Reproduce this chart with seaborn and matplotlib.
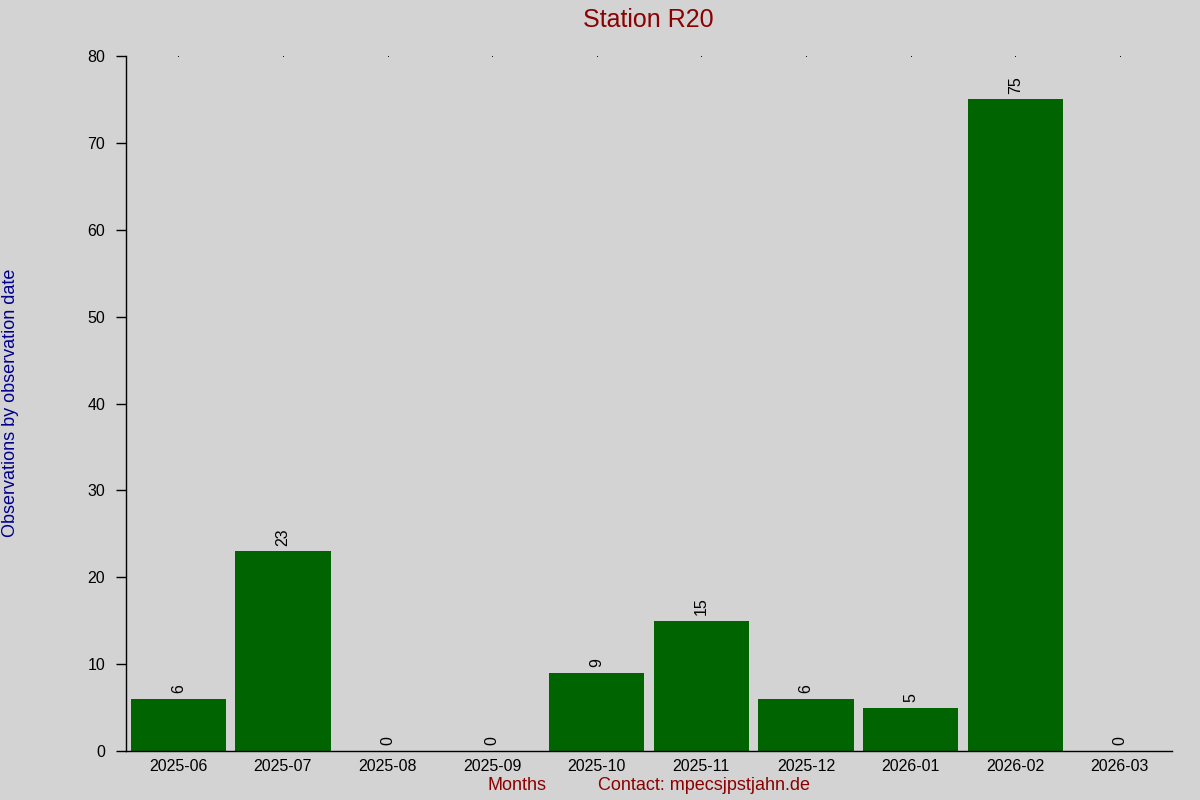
import matplotlib
matplotlib.use("Agg")
import matplotlib.pyplot as plt
import seaborn as sns
import pandas as pd

# data
months = ["2025-06", "2025-07", "2025-08", "2025-09", "2025-10",
          "2025-11", "2025-12", "2026-01", "2026-02", "2026-03"]
counts = [6, 23, 0, 0, 9, 15, 6, 5, 75, 0]

df = pd.DataFrame({"month": months, "count": counts})

sns.set_style("white")
plt.rcParams["font.family"] = ["Liberation Sans", "DejaVu Sans"]

bg = "#d3d3d3"
fig = plt.figure(figsize=(12, 8), dpi=100, facecolor=bg)
ax = fig.add_axes([0.105, 0.06125, 0.8717, 0.86875])
ax.set_facecolor(bg)

sns.barplot(data=df, x="month", y="count", color="#006400", saturation=1,
            width=0.91, edgecolor="none", linewidth=0, ax=ax)
for bars in ax.containers:
    ax.bar_label(bars, rotation=90, padding=4, fontsize=11.5, color="black")

ax.set_xlim(-0.5, len(months) - 0.5)
ax.set_ylim(0, 80)
ax.set_yticks(range(0, 81, 10))
ax.set_xlabel("")
ax.set_ylabel("")

for side in ["top", "right"]:
    ax.spines[side].set_visible(False)
for side in ["left", "bottom"]:
    ax.spines[side].set_color("black")
    ax.spines[side].set_linewidth(1)

ax.yaxis.set_ticks_position("left")
ax.tick_params(axis="y", left=True, direction="out", length=7, width=1,
               labelsize=11.5, colors="black", pad=8)
ax.tick_params(axis="x", length=0, labelsize=11.5, colors="black", pad=6)

# the tiny dots along the top edge
for i in range(len(months)):
    ax.plot(i, 80, marker="s", markersize=0.6, markeredgewidth=0,
            color="black", clip_on=False)

fig.text(0.54, 0.975, "Station R20", ha="center", va="center",
         fontsize=18, color="#8b0000")
fig.text(0.009, 0.497, "Observations by observation date", rotation=90,
         ha="center", va="center", fontsize=13, color="#00008b")
fig.text(0.431, 0.018, "Months", ha="center", va="center",
         fontsize=13, color="#8b0000")
fig.text(0.587, 0.018, "Contact: mpecsjpstjahn.de", ha="center", va="center",
         fontsize=13, color="#8b0000")

fig.savefig("out.png", dpi=100, facecolor=bg)
